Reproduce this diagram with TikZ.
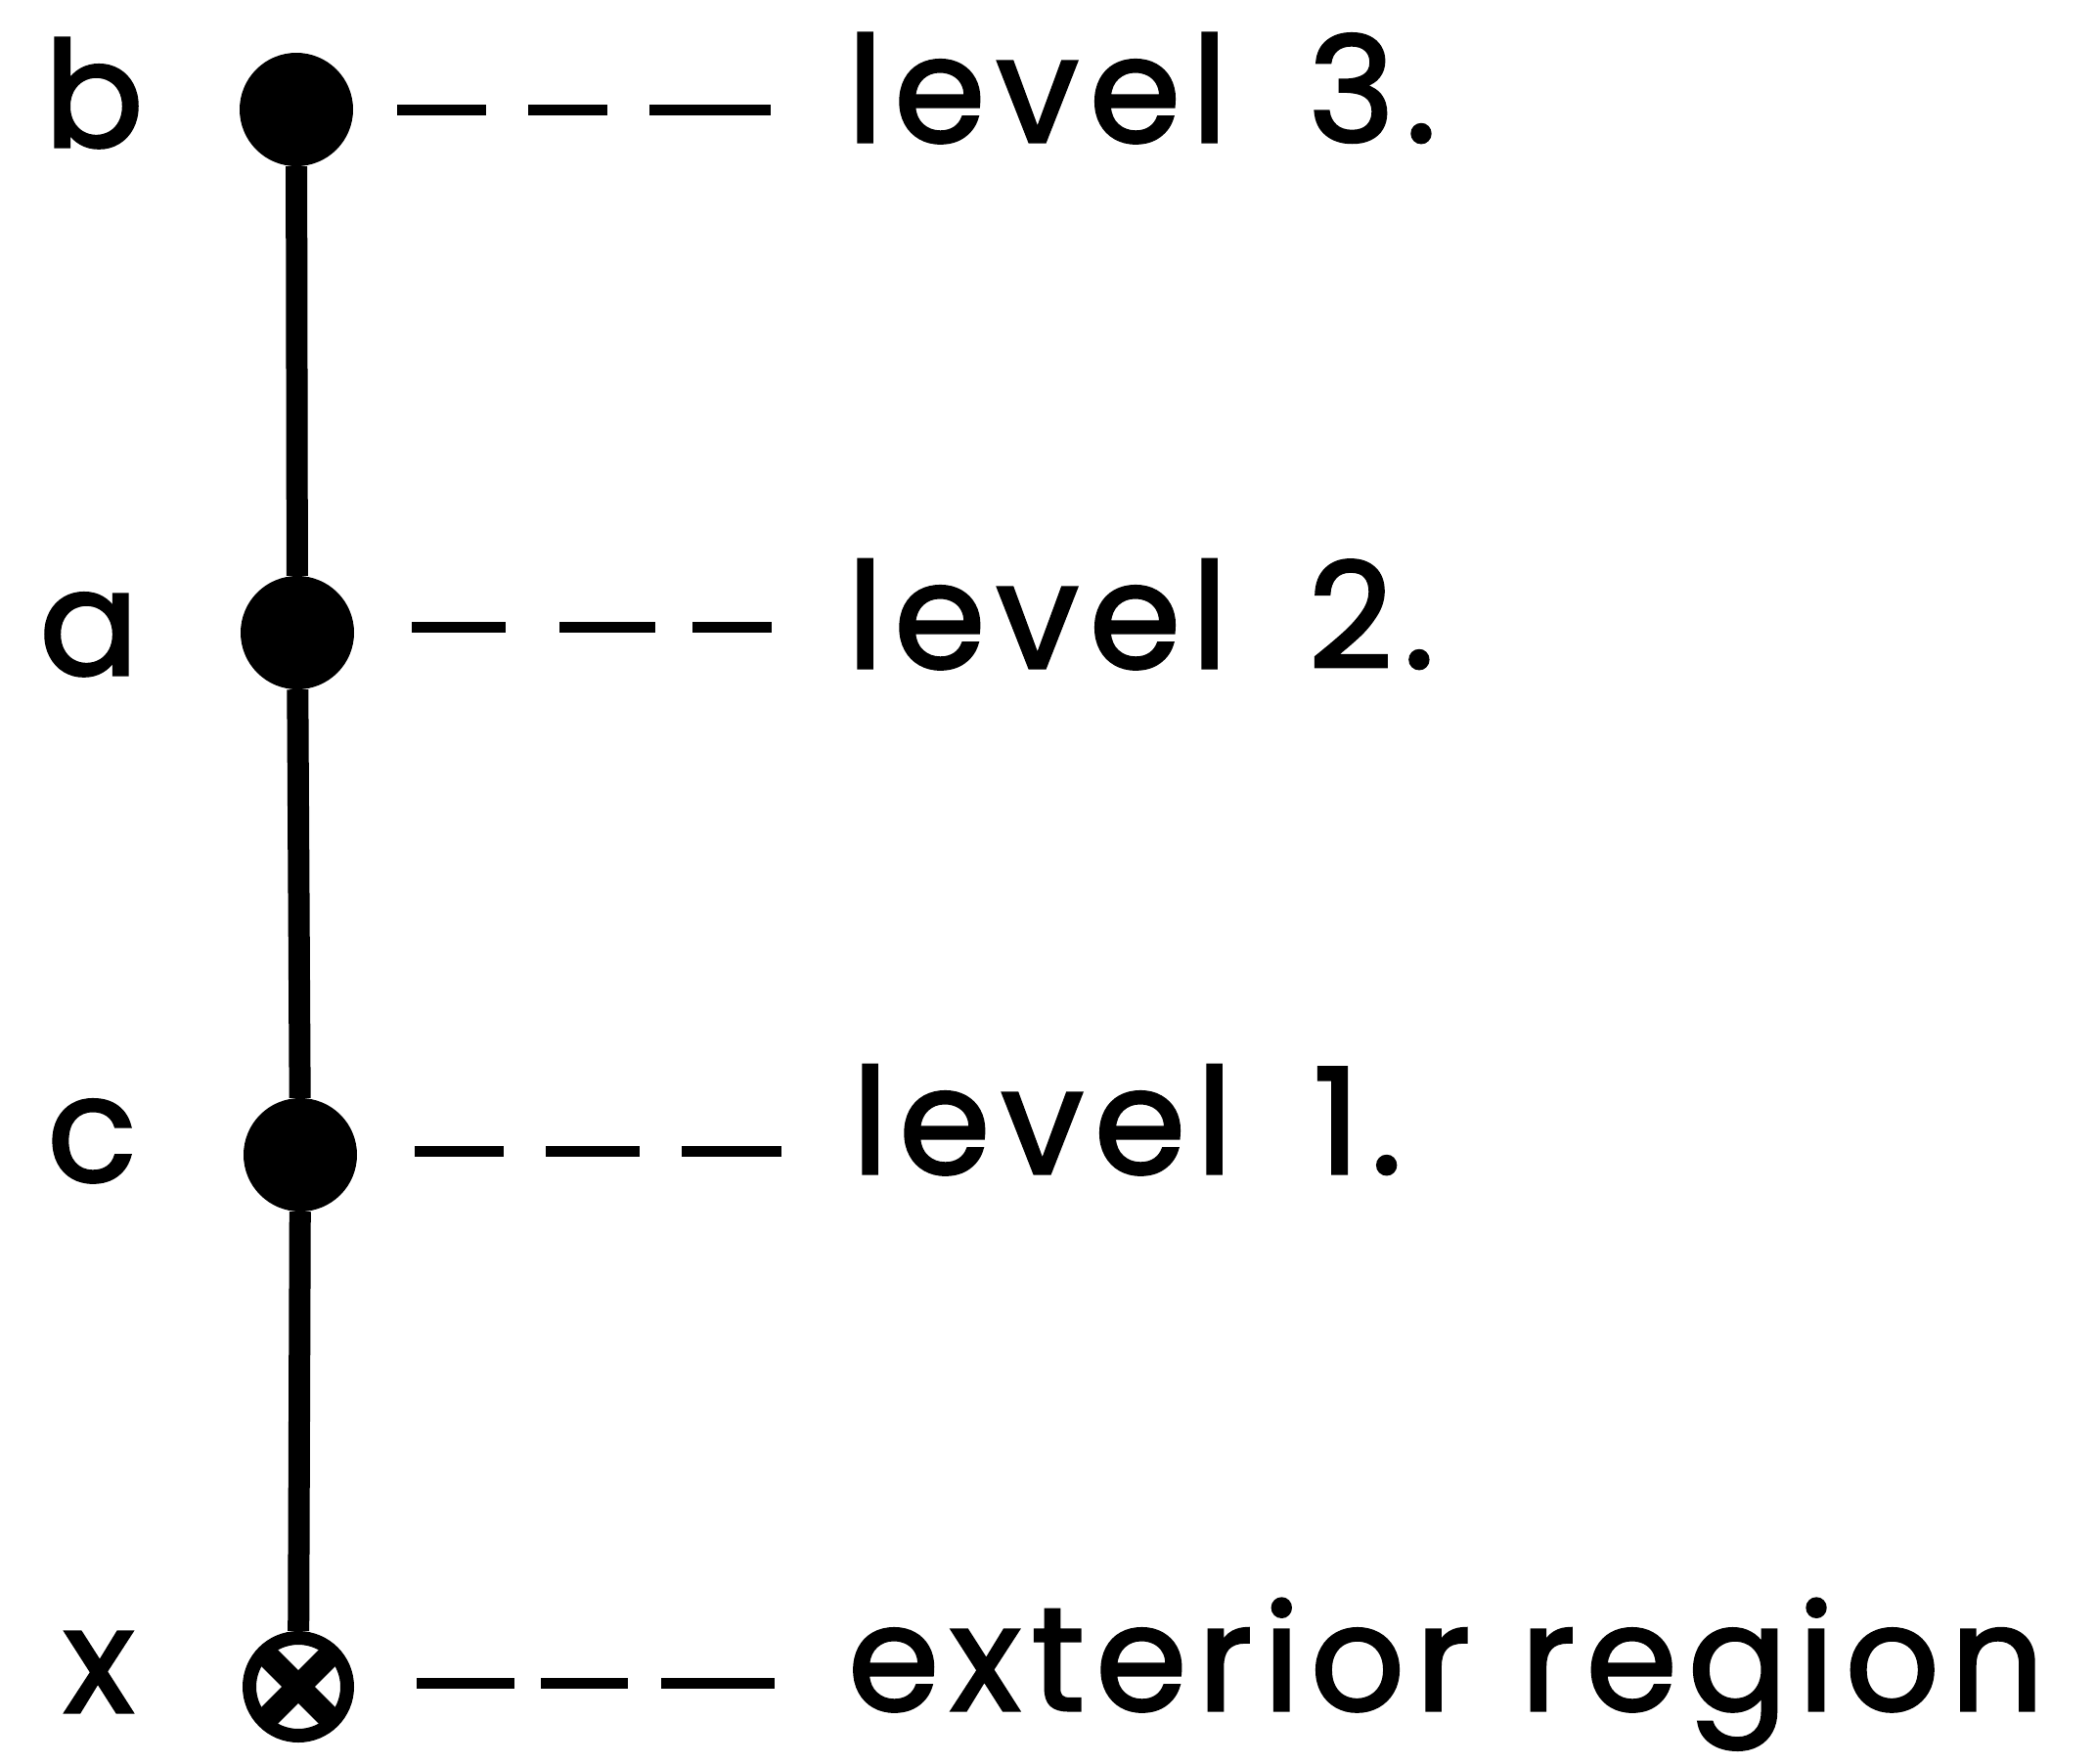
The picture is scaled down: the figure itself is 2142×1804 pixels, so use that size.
\documentclass[tikz,border=0pt]{standalone}
\usepackage{fontspec}
\setmainfont{Poppins}
\newfontfamily\diagfont{Poppins}[FakeBold=2, LetterSpace=7.5]
\begin{document}
\begin{tikzpicture}[x=1pt,y=-1pt,
  dot/.style={circle, fill=black, minimum size=116pt, inner sep=0pt},
  outer/.style={circle, draw=black, line width=14pt, minimum size=100pt, inner sep=0pt,
    path picture={\draw[line width=24pt]
      (path picture bounding box.north west) -- (path picture bounding box.south east)
      (path picture bounding box.north east) -- (path picture bounding box.south west);}},
  lbl/.style={anchor=base, inner sep=0pt, font=\fontsize{150}{180}\diagfont},
  lvl/.style={anchor=base west, inner sep=0pt, font=\fontsize{150}{180}\diagfont},
  stem/.style={line width=22pt},
  leader/.style={line width=11pt, dash pattern=#1},
]
\useasboundingbox (0,0) rectangle (2142,1804);

% vertices of the tree
\node[dot]   (b) at (303,112)  {};
\node[dot]   (a) at (304,647)  {};
\node[dot]   (c) at (307,1181) {};
\node[outer] (x) at (305,1725) {};

% vertex names
\node[lbl] (lb) at (96,150)  {b};
\node[lbl] (la) at (91,690)  {a};
\node[lbl] (lc) at (94,1208) {c};
\node[lbl] (lx) at (101,1751) {x};

% level descriptions
\node[lvl] (t3) at (866,145)  {level\hspace{0.55em}3.};
\node[lvl] (t2) at (866,683)  {level\hspace{0.55em}2.};
\node[lvl] (t1) at (871,1200) {level\hspace{0.55em}1.};
\node[lvl] (t0) at (867,1749) {exterior region};

% the chain of regions
\draw[stem] (b) -- (a) -- (c) -- (x);

% dashed leaders to the level texts
\draw[leader={on 91pt off 43pt on 81pt off 43pt on 124pt}, shorten <=45pt, shorten >=77pt]
  (b.east) -- (b.east -| t3.west);
\draw[leader={on 96pt off 55pt on 98pt off 38pt on 81pt}, shorten <=59pt, shorten >=77pt]
  ([yshift=6pt]a.east) -- ([yshift=6pt]a.east -| t2.west);
\draw[leader={on 91pt off 43pt on 96pt off 43pt on 105pt}, shorten <=59pt, shorten >=72pt]
  ([yshift=4pt]c.east) -- ([yshift=4pt]c.east -| t1.west);
\draw[leader={on 100pt off 27pt on 89pt off 34pt on 116pt}, shorten <=64pt, shorten >=75pt]
  ([yshift=4pt]x.east) -- ([yshift=4pt]x.east -| t0.west);
\end{tikzpicture}
\end{document}
